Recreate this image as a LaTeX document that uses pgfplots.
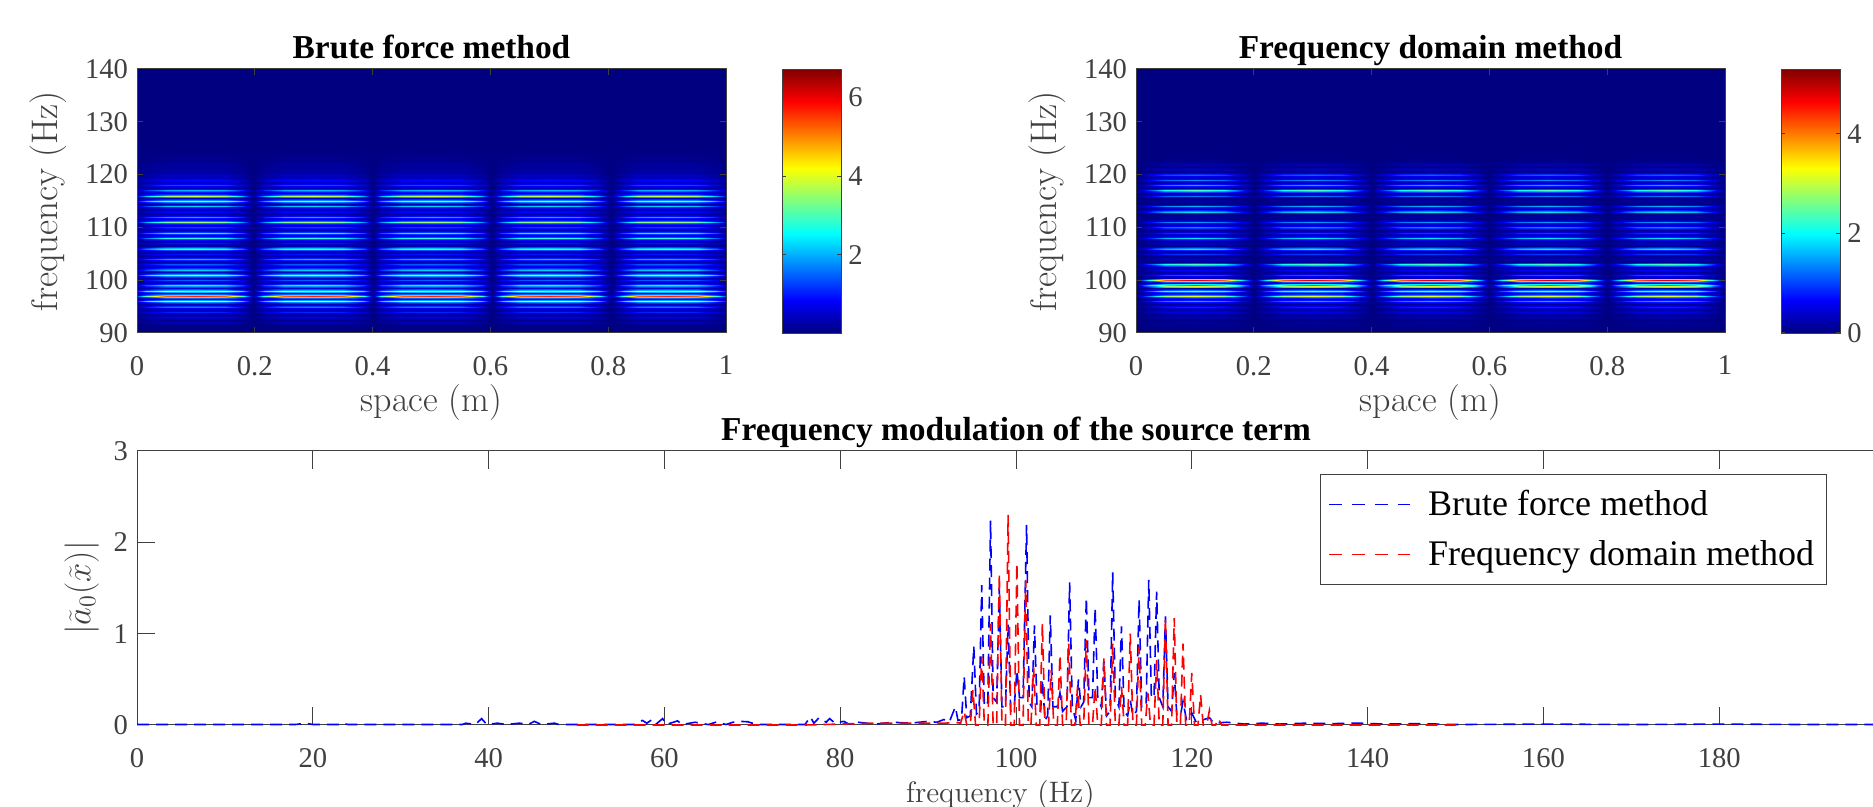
\documentclass[border=0pt]{standalone}
\usepackage{fontspec}
\usepackage{pgfplots}
\usepgfplotslibrary{patchplots}
\pgfplotsset{compat=1.18}
\newfontfamily\tm{Liberation Serif}
\definecolor{axc}{gray}{0.25}
\def\brutebands{90/0.02,91/0.05,91.5/0.05,92/0.4,92.5/0.1,93/0.6,93.5/0.2,93.78/0.5,94/1.1,94.22/0.5,94.5/0.3,94.78/0.8,95/1.7,95.22/0.8,95.5/0.4,95.78/1.9,96/4.2,96.22/1.9,96.5/0.5,96.78/2.6,97/5.7,97.22/2.6,97.5/0.6,97.78/2.1,98/4.6,98.22/2.1,98.5/0.6,98.78/1.3,99/2.6,99.22/1.3,99.5/0.5,99.78/0.9,100/1.5,100.22/0.9,100.5/0.5,100.78/1.9,101/3.9,101.22/1.9,101.5/0.5,101.78/1.2,102/2.3,102.22/1.2,102.5/0.4,102.78/0.8,103/1.5,103.22/0.8,103.5/0.4,103.78/1.1,104/2.1,104.22/1.1,104.5/0.4,104.78/0.6,105/1.0,105.22/0.6,105.5/0.3,105.78/1.4,106/3.0,106.22/1.4,106.5/0.3,106.78/0.5,107/1.0,107.22/0.5,107.5/0.3,107.78/1.4,108/2.9,108.22/1.4,108.5/0.4,108.78/1.3,109/2.6,109.22/1.3,109.5/0.4,109.78/0.7,110/1.3,110.22/0.7,110.5/0.4,110.78/1.7,111/3.6,111.22/1.7,111.5/0.4,111.78/1.0,112/2.0,112.22/1.0,112.5/0.3,112.78/0.5,113/0.9,113.22/0.5,113.5/0.3,113.78/1.1,114/2.3,114.22/1.1,114.5/0.4,114.78/1.8,115/3.7,115.22/1.8,115.5/0.5,115.78/1.9,116/3.9,116.22/1.9,116.5/0.5,116.78/1.0,117/2.1,117.22/1.0,117.5/0.4,117.78/0.8,118/1.4,118.22/0.8,118.5/0.4,119/0.9,119.5/0.3,120/0.5,120.5/0.2,121/0.3,121.5/0.15,122/0.2,122.5/0.1,123/0.1,124/0.04,125/0.01,140/0}
\def\freqbands{90/0,91/0.02,92/0.15,92.5/0.03,93/0.3,93.5/0.05,94/0.55,94.5/0.1,95/0.85,95.5/0.15,95.78/0.8,96/1.6,96.22/0.8,96.5/0.2,96.78/1.5,97/3.2,97.22/1.5,97.5/0.3,97.78/1.3,98/2.7,98.22/1.3,98.5/0.3,98.78/2.1,99/4.4,99.22/2.1,99.5/0.3,99.78/2.3,100/4.9,100.22/2.3,100.5/0.3,100.78/0.6,101/1.2,101.22/0.6,101.5/0.2,102/0.7,102.5/0.1,102.78/1.1,103/2.4,103.22/1.1,103.5/0.1,104/0.35,104.5/0.1,104.78/0.5,105/1.0,105.22/0.5,105.5/0.15,105.78/0.9,106/1.9,106.22/0.9,106.5/0.1,107/0.45,107.5/0.1,107.78/0.9,108/1.9,108.22/0.9,108.5/0.15,108.78/0.5,109/1.0,109.22/0.5,109.5/0.15,109.78/0.7,110/1.4,110.22/0.7,110.5/0.15,110.78/0.7,111/1.5,111.22/0.7,111.5/0.05,112/0.2,112.5/0.05,112.78/0.9,113/1.9,113.22/0.9,113.5/0.1,113.78/0.8,114/1.6,114.22/0.8,114.5/0.05,115/0.2,115.5/0.05,115.78/0.6,116/1.3,116.22/0.6,116.5/0.15,116.78/1.1,117/2.4,117.22/1.1,117.5/0.2,117.78/0.8,118/1.6,118.22/0.8,118.5/0.15,118.78/0.7,119/1.4,119.22/0.7,119.5/0.15,119.78/0.6,120/1.2,120.22/0.6,120.5/0.05,121/0.4,121.5/0.03,122/0.25,122.5/0.02,123/0.03,124/0,140/0}
\def\bruteprofile{0/0.2,0.015/0.55,0.05/0.92,0.1/1,0.15/0.92,0.18/0.5,0.197/0.03,0.215/0.5,0.25/0.92,0.3/1,0.35/0.92,0.385/0.5,0.4/0.03,0.415/0.5,0.45/0.92,0.5/1,0.55/0.92,0.585/0.5,0.602/0.03,0.62/0.5,0.65/0.92,0.7/1,0.75/0.92,0.785/0.5,0.805/0.03,0.825/0.5,0.85/0.92,0.9/1,0.95/0.92,0.985/0.5,1/0.2}
\def\freqprofile{0/0.02,0.015/0.3,0.05/0.85,0.1/1,0.15/0.85,0.185/0.3,0.2/0.02,0.215/0.3,0.25/0.85,0.3/1,0.35/0.85,0.385/0.3,0.4/0.02,0.415/0.3,0.45/0.85,0.5/1,0.55/0.85,0.585/0.3,0.6/0.02,0.615/0.3,0.65/0.85,0.7/1,0.75/0.85,0.785/0.3,0.8/0.02,0.815/0.3,0.85/0.85,0.9/1,0.95/0.85,0.985/0.3,1/0.02}
\newcommand\buildgrid[3]{\gdef#3{}\foreach \yy/\vv in #1 {\foreach \xx/\ff in #2 {\pgfmathsetmacro\mm{\vv*\ff}\xdef#3{#3 (\xx,\yy) [\mm]}}}}
\buildgrid{\brutebands}{\bruteprofile}{\brutegrid}
\buildgrid{\freqbands}{\freqprofile}{\freqgrid}
\newcommand\plotgrid[1]{\addplot[surf,shader=interp,mesh/cols=31,point meta=explicit] coordinates {#1};}
\pgfplotsset{
 /pgf/number format/assume math mode=true,
 every axis/.append style={font=\tm},
 base/.style={scale only axis, axis line style={axc,line width=0.5pt},
   tick style={axc,line width=0.5pt},
   tick label style={font=\fontsize{14.3}{16}\tm,text=axc},
   xticklabel style={yshift=-8pt},
   yticklabel style={xshift=-1pt},
   label style={font=\fontsize{14.3}{16}\selectfont\rmfamily,text=axc},
   title style={at={(0.5,1)},anchor=base,font=\fontsize{16.7}{18}\tm\bfseries,text=black,yshift=-0.6pt},
   tick align=inside},
 cbar/.style={at={(parent axis.south east)},anchor=south west,xshift=19.6pt,width=29.5pt,height=132pt,
    tick align=inside,major tick length=2pt,
    yticklabel style={font=\fontsize{14.3}{16}\tm,text=axc,xshift=0pt},xticklabel style={yshift=0pt},axis line style={axc}},
 heat/.style={base,width=294.5pt,height=132pt,xmin=0,xmax=1,ymin=90,ymax=140,
   xtick={0,0.2,0.4,0.6,0.8,1},ytick={90,100,...,140},
   xticklabels={0,0.2,0.4,0.6,0.8,1},
   axis on top,tick style={major tick length=3pt},
   colormap/jet,colorbar,colorbar/width=29.5pt,
   xlabel={\fontsize{18}{18}\selectfont space (m)},ylabel={\fontsize{18.5}{18}\selectfont frequency (Hz)},
   xlabel style={yshift=2.5pt},ylabel style={yshift=2.5pt}},
}
\begin{document}
\begin{tikzpicture}[x=1pt,y=1pt]
\useasboundingbox (0,0) rectangle (936.5,403.5);
\clip (0,0) rectangle (936.5,403.5);
\begin{axis}[heat,at={(68.5pt,237pt)},title={Brute force method},
  point meta min=0,point meta max=6.73,
  colorbar style={cbar,ytick={2,4,6}}]
\expandafter\plotgrid\expandafter{\brutegrid}
\end{axis}
\begin{axis}[heat,at={(568pt,237pt)},title={Frequency domain method},
  point meta min=0,point meta max=5.3,
  colorbar style={cbar,ytick={0,2,4}}]
\expandafter\plotgrid\expandafter{\freqgrid}
\end{axis}
\begin{axis}[base,at={(68.5pt,41pt)},width=879pt,height=137pt,xmin=0,xmax=200,ymin=0,ymax=3,
  clip=false,
  xtick={0,20,...,200},ytick={0,1,2,3},
  tick style={major tick length=9pt},
  title={Frequency modulation of the source term},
  xlabel={\fontsize{14.8}{16}\selectfont frequency (Hz)},ylabel={\fontsize{17.5}{18}\selectfont$|\widetilde{a}_0(\widetilde{x})|$},
  xlabel style={yshift=0.3pt,xshift=-7.8pt},ylabel style={yshift=0.5pt},
  legend style={at={(0.673,0.916)},anchor=north west,draw=axc,line width=0.5pt,
    font=\fontsize{18}{20}\tm,inner xsep=4pt,inner ysep=6pt,row sep=7pt,
    nodes={inner sep=2pt}},
  legend cell align=left,
  legend image post style={line width=0.5pt,dash pattern=on 6.2pt off 5.3pt},
  legend image code/.code={\draw[#1] (0,0) -- (40.6pt,0);\path[draw=none] (0,0) -- (47.5pt,0);}]
\addplot[blue,line width=0.8pt,dash pattern=on 6pt off 3.5pt] coordinates {
(0,0.005)(18,0.005)(19.2,0.02)(20,0.005)(23,0.005)(23.4,0.02)(24,0.005)(37,0.005)(37.4,0.02)(38.5,0.005)(39.2,0.07)(39.8,0.005)(41,0.02)(42,0.005)(43.5,0.02)(44.5,0.005)(45.2,0.04)(46,0.005)(47.5,0.02)(48,0.005)(56.5,0.005)(57.5,0.05)(58,0.02)(58.6,0.06)(59,0.005)(59.8,0.07)(60.2,0.005)(61.5,0.045)(62,0.005)(63.5,0.03)(64,0.02)(65,0.005)(66,0.035)(67,0.005)(67.8,0.03)(68.6,0.04)(69.5,0.035)(70.5,0.005)(76,0.005)(76.6,0.09)(77,0.02)(77.6,0.08)(78.4,0.03)(78.8,0.07)(79.4,0.02)(80.4,0.04)(81,0.01)(82,0.03)(84,0.01)(86,0.03)(88,0.02)(90,0.04)(91,0.03)(91.8,0.06)(92.4,0.03)
(93.1,0.2)(93.4,0.05)(93.8,0.06)(94.1,0.53)(94.4,0.08)(94.8,0.1)(95.2,0.86)(95.5,0.12)(95.8,0.15)(96.1,1.53)(96.4,0.2)(96.8,0.25)(97.1,2.24)(97.4,0.3)(97.8,0.25)(98.1,1.5)(98.4,0.2)(98.8,0.2)(99.1,1.1)(99.4,0.15)(99.8,0.2)(100.1,0.6)(100.4,0.3)(100.8,0.3)(101.2,2.19)(101.5,0.25)(101.8,0.2)(102.1,1.09)(102.4,0.18)(102.8,0.15)(103,0.5)(103.3,0.05)(103.6,0.1)(103.9,1.2)(104.2,0.2)(104.7,0.2)(105,0.35)(105.3,0.15)(105.8,0.2)(106.1,1.56)(106.4,0.2)(106.8,0.05)(107.1,0.5)(107.4,0.2)(107.7,0.25)(108,1.39)(108.3,0.3)(108.7,0.3)(109,1.28)(109.3,0.3)(109.7,0.2)(110,0.7)(110.3,0.1)(110.7,0.15)(111,1.67)(111.3,0.3)(111.7,0.2)(112,1.08)(112.3,0.15)(112.7,0.1)(113,0.27)(113.3,0.1)(113.7,0.15)(114,1.37)(114.3,0.2)(114.8,0.2)(115.1,1.59)(115.4,0.3)(115.7,0.3)(116,1.46)(116.3,0.3)(116.7,0.2)(117,1.19)(117.3,0.2)(117.7,0.15)(118,0.57)(118.3,0.1)(118.7,0.1)(119,0.26)(119.4,0.05)(120,0.13)(120.5,0.03)(122,0.08)(122.5,0.02)(124,0.03)(126,0.01)(128,0.02)(130,0.01)(133,0.02)(136,0.015)(139,0.02)(142,0.01)(146,0.015)(150,0.005)(160,0.01)(170,0.005)(180,0.01)(190,0.005)(200,0.005)};
\addlegendentry{Brute force method}
\addplot[red,line width=0.8pt,dash pattern=on 6pt off 3.5pt] coordinates {
(50,0)(76,0)(80,0.01)(84,0.02)(88,0.02)(92,0.02)(93,0.03)(93.7,0.02)(94.1,0.15)(94.4,0)(94.8,0)(95.1,0.38)(95.4,0)(95.8,0)(96.1,0.75)(96.4,0)(96.8,0)(97.1,1.11)(97.4,0)(97.8,0)(98.1,1.66)(98.4,0)(98.8,0)(99.1,2.3)(99.4,0)(99.8,0)(100.1,1.77)(100.4,0)(100.8,0)(101.1,1.59)(101.4,0)(101.7,0)(102,0.64)(102.3,0)(102.7,0)(103,1.11)(103.3,0)(103.7,0)(104,0.6)(104.3,0)(104.7,0)(105,0.77)(105.3,0)(105.7,0)(106,0.89)(106.3,0)(106.7,0)(107,0.42)(107.3,0)(107.7,0)(108,0.93)(108.3,0)(108.7,0)(109,0.42)(109.3,0)(109.7,0)(110,0.73)(110.3,0)(110.7,0)(111,0.89)(111.3,0)(111.7,0)(112,0.42)(112.3,0)(112.7,0)(113,1.0)(113.3,0)(113.7,0)(114,0.86)(114.3,0)(114.7,0)(115,0.35)(115.3,0)(115.7,0)(116,0.71)(116.3,0)(116.7,0)(117,1.17)(117.3,0)(117.7,0)(118,1.17)(118.3,0)(118.7,0)(119,0.89)(119.3,0)(119.7,0)(120,0.57)(120.3,0)(120.7,0)(121,0.33)(121.3,0)(121.7,0)(122,0.16)(122.3,0)(122.7,0)(123,0.07)(123.4,0)(150,0)};
\addlegendentry{Frequency domain method}
\end{axis}
\end{tikzpicture}
\end{document}
